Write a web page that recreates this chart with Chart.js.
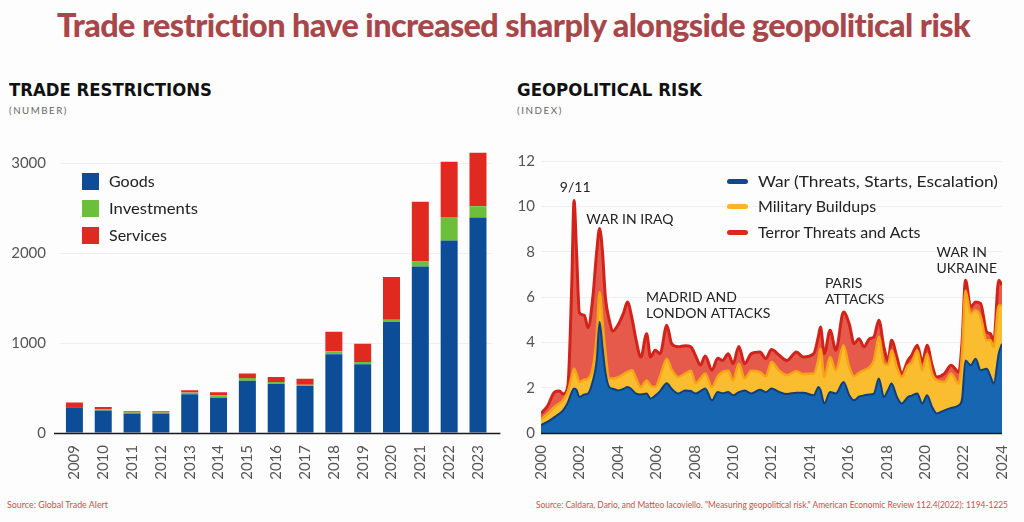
<!DOCTYPE html>
<html><head><meta charset="utf-8">
<script src="https://cdn.jsdelivr.net/npm/chart.js@4.4.1/dist/chart.umd.min.js"></script>
<style>
html,body{margin:0;padding:0;background:#fdfdfd;}
body{width:1024px;height:522px;position:relative;overflow:hidden;font-family:Lato,"Open Sans",sans-serif;}
.t{position:absolute;white-space:nowrap;line-height:1;transform-origin:0 50%;}
#main{left:57px;top:9px;font-size:32px;font-weight:900;color:#a8474a;letter-spacing:-0.6px;}
.h{font-size:18px;font-weight:bold;color:#111;font-family:"DejaVu Sans",sans-serif;}
.sub{font-size:10px;color:#666;letter-spacing:1.6px;}
.src{font-size:9px;color:#c8504c;}
.lg{font-size:16px;color:#222;}
.sw{position:absolute;width:17px;height:17px;}
.ln{position:absolute;width:21px;height:5px;border-radius:3px;}
.cv{position:absolute;}
</style></head><body>
<div class="t" id="main" data-w="913">Trade restriction have increased sharply alongside geopolitical risk</div>
<div class="t h" style="left:9px;top:81px" data-w="203">TRADE RESTRICTIONS</div>
<div class="t sub" style="left:9px;top:105px" data-w="59">(NUMBER)</div>
<div class="t h" style="left:517px;top:81px" data-w="185">GEOPOLITICAL RISK</div>
<div class="t sub" style="left:517px;top:105px" data-w="46">(INDEX)</div>
<canvas id="c1" class="cv" width="505" height="361" style="left:0;top:122px"></canvas>
<canvas id="c2" class="cv" width="519" height="348" style="left:505px;top:135px"></canvas>
<div id="leg1"></div>
<div id="leg2"></div>
<div class="t src" style="left:7px;top:500px" data-w="101">Source: Global Trade Alert</div>
<div class="t src" style="left:536px;top:500px" data-w="472">Source: Caldara, Dario, and Matteo Iacoviello. "Measuring geopolitical risk." American Economic Review 112.4(2022): 1194-1225</div>
<script>
// ---------- Trade restrictions (number) ----------
const years = ['2009','2010','2011','2012','2013','2014','2015','2016','2017','2018','2019','2020','2021','2022','2023'];
const goods       = [285, 250, 217, 217, 430, 393, 580, 545, 522, 875, 765, 1232, 1850, 2140, 2395];
const investments = [  5,  15,  12,  12,  20,  26,  30,  22,  15,  33,  25,   25,   55,  260,  125];
const services    = [ 48,  25,  14,  14,  24,  33,  52,  55,  66, 217, 203,  475,  665,  615,  595];
const tradeTicks = [0, 1000, 2000, 3000];

// ---------- Geopolitical risk (index) ----------
const gprDates = [2000.0,2000.35,2000.7,2000.95,2001.15,2001.4,2001.6,2001.72,2001.85,2002.0,2002.25,2002.45,2002.7,2002.9,2003.05,2003.2,2003.35,2003.55,2003.75,2004.0,2004.3,2004.5,2004.75,2004.95,2005.2,2005.5,2005.7,2005.95,2006.2,2006.55,2006.8,2007.15,2007.5,2007.8,2008.05,2008.3,2008.55,2008.9,2009.2,2009.45,2009.75,2010.0,2010.3,2010.6,2010.95,2011.4,2011.7,2012.0,2012.4,2012.8,2013.3,2013.65,2014.2,2014.45,2014.55,2014.75,2015.05,2015.35,2015.75,2016.05,2016.3,2016.55,2016.82,2017.1,2017.33,2017.59,2017.85,2018.07,2018.25,2018.53,2018.78,2019.1,2019.3,2019.59,2019.85,2020.1,2020.36,2020.6,2021.0,2021.35,2021.75,2021.92,2022.1,2022.37,2022.63,2022.89,2023.2,2023.4,2023.57,2023.83,2024.0];
const war      = [0.35,0.5,0.7,0.85,1.0,1.35,1.8,1.96,1.9,1.59,1.7,1.74,2.3,3.2,4.9,3.8,2.7,2.03,1.95,1.88,1.95,2.03,1.9,1.74,1.7,1.74,1.52,1.65,1.85,2.2,1.95,1.74,1.88,1.85,1.74,1.85,1.96,1.44,1.81,1.75,1.81,1.66,1.8,1.88,1.74,1.91,1.8,1.96,1.81,1.72,1.78,1.78,1.66,2.03,1.9,1.3,1.81,1.74,2.25,1.66,1.44,1.6,1.66,1.7,1.74,2.4,1.59,1.9,2.18,1.59,1.3,1.59,1.65,1.74,1.3,1.66,1.15,0.86,1.0,1.1,1.22,1.5,3.2,2.99,3.28,2.77,2.84,2.5,2.18,3.5,3.94];
const buildups = [0.25,0.35,0.45,0.45,0.45,0.5,0.7,0.88,0.7,0.66,0.65,0.66,0.6,1.1,1.32,1.2,0.9,0.37,0.45,0.57,0.65,0.67,0.87,0.66,0.33,0.58,0.58,0.38,0.65,1.08,0.85,0.73,0.74,0.9,0.46,0.55,0.66,0.59,0.69,0.95,0.94,0.66,1.26,0.52,1.01,0.78,0.7,1.17,0.94,0.83,0.94,0.82,0.96,1.25,1.82,1.17,1.54,1.03,1.62,1.24,1.06,1.05,1.11,1.2,1.46,1.84,1.47,1.1,1.47,1.31,1.17,1.4,1.45,1.91,1.47,1.84,1.47,1.46,1.25,1.52,0.96,2.0,3.09,2.28,2.13,2.35,1.25,1.59,1.62,2.13,1.69];
const terror   = [0.26,0.35,0.65,0.55,0.27,0.25,4.0,7.42,5.4,3.05,2.85,2.25,3.1,3.7,2.8,3.0,2.4,2.6,2.1,2.3,2.7,3.08,2.23,1.7,1.32,2.06,1.25,1.62,1.0,1.47,1.14,1.33,1.23,1.05,1.2,0.6,0.78,0.74,0.8,0.5,0.75,0.74,0.76,0.66,0.75,0.88,0.78,0.55,0.68,0.65,0.85,0.75,0.88,1.02,0.96,1.03,1.18,0.88,1.47,1.9,1.44,1.51,1.03,1.26,1.04,0.73,0.74,0.2,0.44,0.45,0.15,0.21,0.33,0.22,0.36,0.37,0.37,0.15,0.37,0.37,0.51,0.5,0.45,0.29,0.37,0.59,0.37,0.29,0.21,1.11,0.89];
const gprTicks = [0, 2, 4, 6, 8, 10, 12];
const events = [
  {lines:['9/11'], x:2001.78, y:10.84, align:'center'},
  {lines:['WAR IN IRAQ'], x:2002.36, y:9.43, align:'left'},
  {lines:['MADRID AND','LONDON ATTACKS'], x:2005.47, y:5.99, align:'left'},
  {lines:['PARIS','ATTACKS'], x:2014.78, y:6.6, align:'left'},
  {lines:['WAR IN','UKRAINE'], x:2020.59, y:7.97, align:'left'}
];

const TICK_FONT = {family:'Lato', size:15};
const TICK_COLOR = '#555';

// baseline plugin
const baseline = (ext) => ({
  id:'baseline',
  afterDatasetsDraw(chart){
    const {ctx, chartArea:a, scales:{y}} = chart;
    const py = Math.round(y.getPixelForValue(0)) + 0.5;
    ctx.save(); ctx.strokeStyle = '#1a1a1a'; ctx.lineWidth = 1.6;
    ctx.beginPath(); ctx.moveTo(a.left - ext[0], py); ctx.lineTo(a.right + ext[1], py); ctx.stroke(); ctx.restore();
  }
});

new Chart(document.getElementById('c1'), {
  type:'bar',
  data:{labels:years, datasets:[
    {label:'Goods', data:goods, backgroundColor:'#0d4d98'},
    {label:'Investments', data:investments, backgroundColor:'#6cbf3a'},
    {label:'Services', data:services, backgroundColor:'#e0291f'}
  ]},
  options:{
    responsive:false, devicePixelRatio:1, animation:false,
    layout:{padding:{top:10, left:0, right:12.6, bottom:0}},
    plugins:{legend:{display:false}, tooltip:{enabled:false}},
    datasets:{bar:{categoryPercentage:1, barPercentage:0.59}},
    scales:{
      x:{stacked:true, grid:{display:false}, border:{display:false},
         ticks:{font:TICK_FONT, color:TICK_COLOR, maxRotation:90, minRotation:90, padding:4, autoSkip:false},
         afterFit(s){ s.height = 50; }},
      y:{stacked:true, min:0, max:3200, border:{display:false},
         grid:{drawTicks:false, color:(c)=> c.tick && c.tick.value===0 ? 'rgba(0,0,0,0)' : '#efefef'},
         ticks:{font:TICK_FONT, color:TICK_COLOR, padding:14, callback:(v)=>String(v)},
         afterBuildTicks(s){ s.ticks = tradeTicks.map(v=>({value:v})); },
         afterFit(s){ s.width = 60; }}
    }
  },
  plugins:[baseline([6, 8])]
});

const annot = {
  id:'annot',
  afterDatasetsDraw(chart){
    const {ctx, scales:{x,y}} = chart;
    ctx.save(); ctx.fillStyle = '#222'; ctx.font = '14px Lato'; ctx.textBaseline = 'middle';
    events.forEach(e => {
      ctx.textAlign = e.align;
      const px = x.getPixelForValue(e.x), py = y.getPixelForValue(e.y);
      e.lines.forEach((l,i) => ctx.fillText(l, px, py + i*16.5));
    });
    ctx.restore();
  }
};

const pts = (arr) => gprDates.map((d,i)=>({x:d, y:arr[i]}));
const gprSeries = [
  {label:'War (Threats, Starts, Escalation)', data:war, fill:'origin', bg:'#1766b2', line:'#0c3f7e', key:'#0d4a8f', w:2},
  {label:'Military Buildups', data:buildups, fill:'-1', bg:'#fbbd30', line:'#f5a416', key:'#f7b52a', w:2.5},
  {label:'Terror Threats and Acts', data:terror, fill:'-1', bg:'#e55a4b', line:'#d2231b', key:'#d82b20', w:3}
];
new Chart(document.getElementById('c2'), {
  type:'line',
  data:{datasets: gprSeries.map(s => ({
    label:s.label, data:pts(s.data), fill:s.fill, backgroundColor:s.bg, borderColor:s.line,
    borderWidth:s.w, pointRadius:0, cubicInterpolationMode:'monotone'
  }))},
  options:{
    responsive:false, devicePixelRatio:1, animation:false,
    layout:{padding:{top:26, left:0, right:12, bottom:0}},
    plugins:{legend:{display:false}, tooltip:{enabled:false}},
    scales:{
      x:{type:'linear', min:2000, max:2024, grid:{display:false}, border:{display:false},
         ticks:{stepSize:2, font:TICK_FONT, color:TICK_COLOR, maxRotation:90, minRotation:90, padding:4, autoSkip:false, callback:(v)=>String(v)},
         afterFit(s){ s.height = 50; }},
      y:{stacked:true, min:0, max:12, border:{display:false},
         grid:{drawTicks:false, color:(c)=> c.tick && c.tick.value===0 ? 'rgba(0,0,0,0)' : '#efefef'},
         ticks:{font:TICK_FONT, color:TICK_COLOR, padding:6, callback:(v)=>String(v)},
         afterBuildTicks(s){ s.ticks = gprTicks.map(v=>({value:v})); },
         afterFit(s){ s.width = 36; }}
    }
  },
  plugins:[annot, baseline([0, 0])]
});

// legends (HTML)
const leg1 = document.getElementById('leg1');
[['Goods','#0d4d98',181],['Investments','#6cbf3a',208],['Services','#e0291f',235]].forEach(([t,c,y])=>{
  leg1.insertAdjacentHTML('beforeend', `<div class="sw" style="left:82px;top:${y-8.5}px;background:${c}"></div><div class="t lg" style="left:109px;top:${y-8}px">${t}</div>`);
});
const leg2 = document.getElementById('leg2');
gprSeries.forEach((s,i)=>{
  const y = [181,206,232][i];
  leg2.insertAdjacentHTML('beforeend', `<div class="ln" style="left:727px;top:${y-2.5}px;background:${s.key}"></div><div class="t lg" style="left:758px;top:${y-8}px">${s.label}</div>`);
});
document.querySelector('#leg2 .lg').dataset.w = '240';
document.querySelectorAll('#leg1 .lg')[1].dataset.w = '89';

// fit texts horizontally to measured widths
document.querySelectorAll('[data-w]').forEach(el=>{
  const w = el.getBoundingClientRect().width;
  const target = parseFloat(el.dataset.w);
  if (w > 0) el.style.transform = `scaleX(${target / w})`;
});
</script>
</body></html>
